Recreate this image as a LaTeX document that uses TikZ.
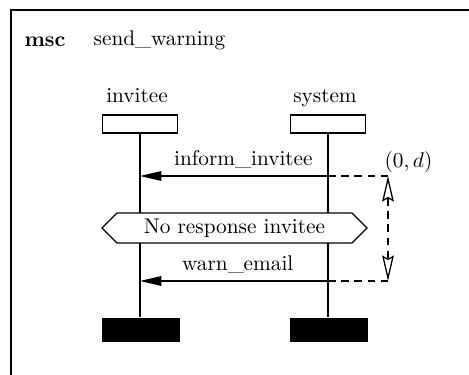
\documentclass[tikz,border=0pt]{standalone}
\usetikzlibrary{positioning,arrows.meta,shapes.symbols}
\begin{document}
\begin{tikzpicture}[x=0.47pt, y=-0.47pt, line width=0.6pt,
    head/.style={draw, minimum width=35.5pt, minimum height=8.5pt, inner sep=0pt},
    stopbox/.style={fill=black, minimum width=36.5pt, minimum height=11.3pt, inner sep=0pt},
    msg/.style={-{Triangle[length=10pt,width=4.5pt]}},
    gap/.style={dash pattern=on 3.6pt off 2.6pt},
    delay/.style={gap, {Stealth[open,length=12pt,width=5.5pt,inset=1.5pt]}-{Stealth[open,length=12pt,width=5.5pt,inset=1.5pt]}}]
    \useasboundingbox (0,0) rectangle (469,375);

    % Frame
    \coordinate (fl) at (11,375);
    \coordinate (fc) at (11,10);
    \coordinate (fr) at (469,10);
    \draw (fl) -- (fc) -- (fr);
    \node[font=\bfseries] (msc) at (45,42) {msc};
    \node[anchor=west] (name) at (86,40) {send\_warning};

    % Instance heads
    \node[head] (invitee) at (140,124) {};
    \node[head] (system) at (328,124) {};
    \node[anchor=base] (invname) at (137,103) {invitee};
    \node[anchor=base] (sysname) at (325,103) {system};

    % Instance ends
    \node[stopbox] (invend) at (141,330) {};
    \node[stopbox] (sysend) at (329,330) {};

    % Lifelines
    \draw (invitee) -- (invitee |- invend.north);
    \draw (system) -- (system |- sysend.north);

    % Messages
    \coordinate (inv1) at (140,176);
    \coordinate (sys1) at (328,176);
    \coordinate (inv2) at (140,281);
    \coordinate (sys2) at (328,281);
    \draw[msg] (sys1) -- node[above, pos=0.45] {inform\_invitee} (inv1);
    \draw[msg] (sys2) -- node[above, pos=0.48] {warn\_email} (inv2);

    % Condition
    \node[draw, fill=white, signal, signal to=west and east, signal pointer angle=90,
      minimum width=124.5pt, minimum height=14.1pt, inner sep=1pt] (cond) at (234.5,228) {No response invitee};

    % Time constraint
    \coordinate (d0) at (388,176);
    \coordinate (d1) at (388,281);
    \draw[gap] (sys1) -- (d0);
    \draw[gap] (sys2) -- (d1);
    \draw[delay] (d0) -- (d1);
    \node[anchor=south west, inner sep=0pt] (dlabel) at (384,173) {$(0,d)$};
\end{tikzpicture}
\end{document}
